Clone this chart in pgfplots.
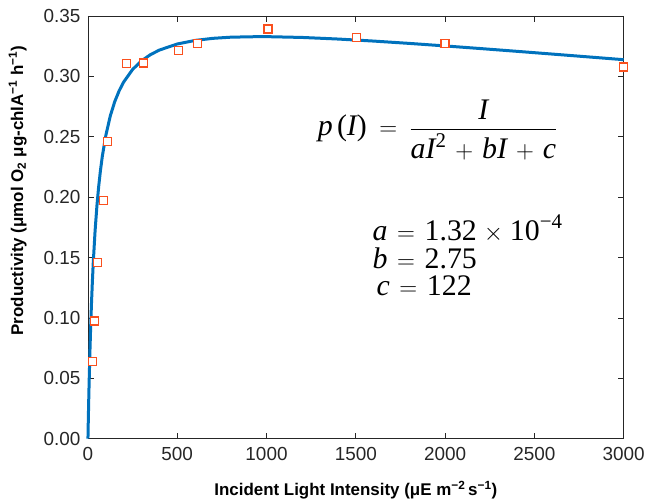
\documentclass[border=0pt]{standalone}
\usepackage{amsmath}
\usepackage{pgfplots}
\pgfplotsset{compat=1.18}
\usepackage{fontspec}
\setmainfont{Liberation Sans}
\newfontfamily\tms{Liberation Serif}
\newcommand{\mi}[1]{\text{\tms\itshape #1}}
\newcommand{\mr}[1]{\text{\tms #1}}
\definecolor{curveblue}{RGB}{0,114,189}
\definecolor{markorange}{RGB}{250,80,30}
\definecolor{axgray}{RGB}{38,38,38}
\newcommand{\wide}{\thickmuskip=9mu plus 2mu\medmuskip=6.5mu plus 2mu}
\newcommand{\midsp}{\thickmuskip=7mu plus 2mu\medmuskip=5mu plus 2mu}

\begin{document}
\begin{tikzpicture}
\begin{axis}[
  scale only axis,
  width=536bp,
  height=423bp,
  xmin=0, xmax=3000,
  ymin=0, ymax=0.35,
  xtick={0,500,1000,1500,2000,2500,3000},
  ytick={0,0.05,0.10,0.15,0.20,0.25,0.30,0.35},
  /pgf/number format/1000 sep={},
  /pgf/number format/assume math mode=true,
  yticklabel style={/pgf/number format/fixed,
    /pgf/number format/fixed zerofill,
    /pgf/number format/precision=2, xshift=-4bp},
  xticklabel style={yshift=-5bp},
  tick label style={font=\fontsize{19}{22}\selectfont, text=axgray},
  tick align=inside,
  major tick length=6bp,
  axis line style={axgray, line width=0.8bp},
  every tick/.style={axgray, line width=0.8bp},
  clip=false,
  xlabel={\bfseries Incident Light Intensity (μE m\textsuperscript{−2}\,s\textsuperscript{−1})},
  ylabel={\bfseries Productivity (μmol O\textsubscript{2} μg-chlA\textsuperscript{−1} h\textsuperscript{−1})},
  label style={font=\fontsize{17}{20}\selectfont},
  xlabel style={yshift=-14bp},
  ylabel style={at={(ticklabel cs:0.587)}, anchor=near ticklabel, yshift=10bp},
]
% fitted curve p(I) = I/(aI^2+bI+c), values listed point by point
\addplot[curveblue, line width=3bp] coordinates {
  (0,0) (2,0.01569) (5,0.03683) (10,0.06688) (15,0.09187) (20,0.11296)
  (25,0.13101) (30,0.14661) (40,0.17226) (50,0.19243) (60,0.20871)
  (70,0.22212) (80,0.23334) (100,0.25105) (125,0.26720) (150,0.27909)
  (175,0.28816) (200,0.29530) (250,0.30572) (300,0.31286) (350,0.31799)
  (400,0.32177) (500,0.32680) (600,0.32976) (700,0.33149) (800,0.33244)
  (961,0.33291) (1000,0.33289) (1200,0.33222) (1400,0.33091)
  (1600,0.32922) (1800,0.32729) (2000,0.32520) (2200,0.32301)
  (2400,0.32076) (2600,0.31846) (2800,0.31614) (3000,0.31381)
};
% measurements
\addplot[only marks, mark=square*, mark size=4bp,
  mark options={draw=markorange, fill=white, line width=1.2bp}] coordinates {
  (26,0.0640) (37,0.0974) (54,0.1462) (88,0.1972) (108,0.2463)
  (214,0.3109) (310,0.3110) (505,0.3216) (614,0.3274) (1008,0.3392)
  (1505,0.3323) (2000,0.3274) (2998,0.3078)
};
\node[anchor=west, inner sep=0pt] at (axis cs:1287,0.2557)
  {\fontsize{30}{33}\selectfont\wide
   $\mi{p}\,\mr{(}\mi{I}\mr{)} = \dfrac{\mi{I}}{\mi{aI}^{\mr{2}}+\mi{bI}+\mi{c}}$};
\node[anchor=base west, inner sep=0pt] at (axis cs:1593,0.1641)
  {\fontsize{30}{27.7}\selectfont\midsp
   \vtop{\hbox{$\mi{a} = \mr{1.32}\times\mr{10}^{\mr{−4}}$}
         \hbox{$\mi{b} = \mr{2.75}$}
         \hbox{\hspace{4bp}$\mi{c} = \mr{122}$}}};
\path (rel axis cs:-0.1642,-0.1489) rectangle (rel axis cs:1.0448,1.0378);
\end{axis}
\end{tikzpicture}
\end{document}
